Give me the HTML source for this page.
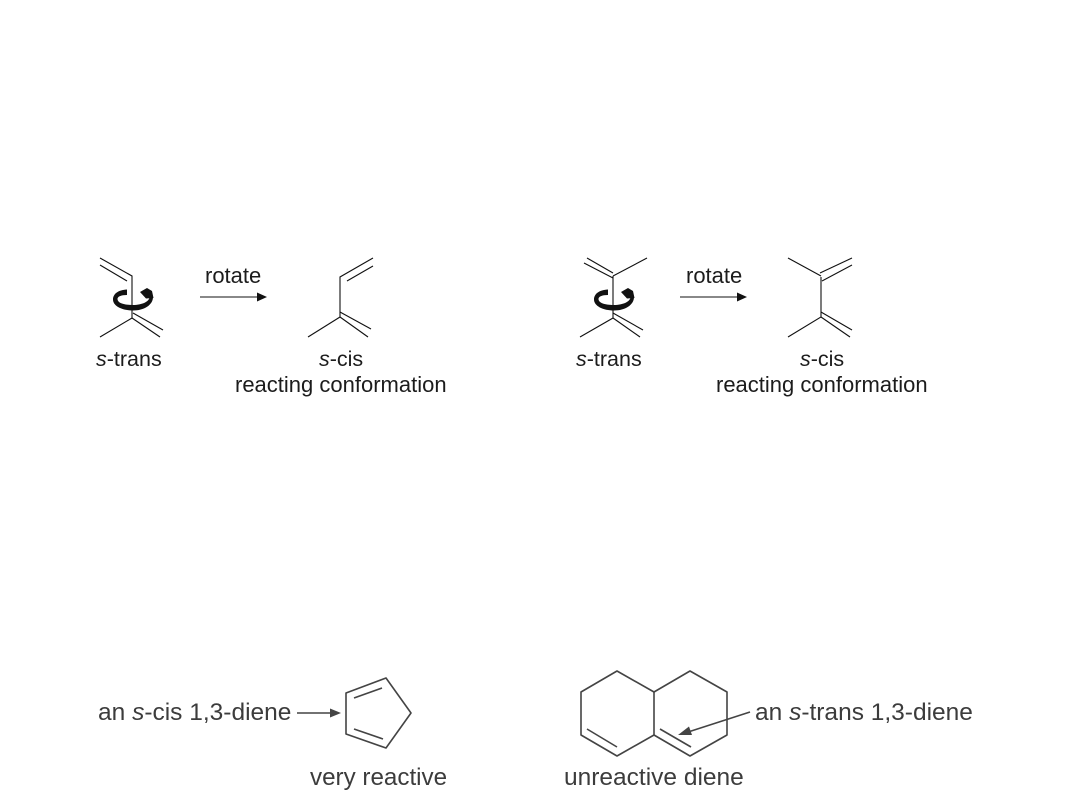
<!DOCTYPE html>
<html>
<head>
<meta charset="utf-8">
<style>
html,body{margin:0;padding:0;background:#fff;width:1080px;height:810px;overflow:hidden}
svg{display:block}
text{font-family:"Liberation Sans",sans-serif}
.t{font-size:21.5px;fill:#1c1c1c}
.r{font-size:22px;fill:#1c1c1c}
.b{font-size:24.5px;fill:#3c3c3c}
.m{stroke:#111;stroke-width:1.1;fill:none}
.g{stroke:#444;stroke-width:1.6;fill:none;stroke-linejoin:round}
</style>
</head>
<body>
<svg width="1080" height="810" viewBox="0 0 1080 810" xmlns="http://www.w3.org/2000/svg">
<defs>
<g id="rot">
<path d="M127 289.500C118 290 113 294 113 299.500C113 306 122 310.500 133 310.500C144 310.500 153 305 153 297L149.500 297C149.500 301.500 142 305 133 305C124 305 117.500 303 117.500 299C117.500 296.500 121 295 127 295Z" fill="#111"/>
<path d="M140 292L147 288L152 291L153.500 298L146 298.500Z" fill="#111"/>
</g>
</defs>

<!-- top left: s-trans -->
<g class="m">
<path d="M100 258L132 276V318L100 337"/>
<path d="M100 265L127 281"/>
<path d="M133 313L163 330"/>
<path d="M132 318L160 337"/>
<path d="M200 297H258"/>
<path d="M340 317V277L373 258"/>
<path d="M347 281L373 266"/>
<path d="M340 317L308 337"/>
<path d="M340 312L371 329"/>
<path d="M340 317L368 337"/>
</g>
<use href="#rot"/>
<path d="M257 292.500L267 297L257 301.500Z" fill="#111"/>
<text class="r" x="205" y="283">rotate</text>
<text class="t" x="96" y="366"><tspan font-style="italic">s</tspan>-trans</text>
<text class="t" x="319" y="366"><tspan font-style="italic">s</tspan>-cis</text>
<text class="r" x="235" y="392">reacting conformation</text>

<!-- top right -->
<g class="m">
<path d="M613 276V318L580 337"/>
<path d="M613 273L587 258"/>
<path d="M613 278L584 263"/>
<path d="M613 276L647 258"/>
<path d="M613 313L643 330"/>
<path d="M613 318L640 337"/>
<path d="M680 297H738"/>
<path d="M821 277V317L788 337"/>
<path d="M821 276L788 258"/>
<path d="M820 273L852 258"/>
<path d="M822 281L852 265"/>
<path d="M821 312L852 330"/>
<path d="M821 317L850 337"/>
</g>
<use href="#rot" x="481"/>
<path d="M737 292.500L747 297L737 301.500Z" fill="#111"/>
<text class="r" x="686" y="283">rotate</text>
<text class="t" x="576" y="366"><tspan font-style="italic">s</tspan>-trans</text>
<text class="t" x="800" y="366"><tspan font-style="italic">s</tspan>-cis</text>
<text class="r" x="716" y="392">reacting conformation</text>

<!-- bottom left -->
<g class="g">
<path d="M346 693L386 678L411 713L386 748L346 734Z"/>
<path d="M354 698L382 688"/>
<path d="M354 729L383 739"/>
<path d="M297 713H333"/>
</g>
<path d="M330 708.500L341 713L330 717.500Z" fill="#444"/>
<text class="b" x="98" y="720">an <tspan font-style="italic">s</tspan>-cis 1,3-diene</text>
<text class="b" x="310" y="785" style="font-size:24.2px">very reactive</text>

<!-- bottom right -->
<g class="g">
<path d="M581 692L617 671L654 692L690 671L727 692V735L690 756L654 735L617 756L581 735Z"/>
<path d="M654 692V735"/>
<path d="M587 729L617 747"/>
<path d="M660 729L691 747"/>
<path d="M750 712L685 733"/>
</g>
<path d="M678 735L689 726.500L692 735Z" fill="#444"/>
<text class="b" x="755" y="720">an <tspan font-style="italic">s</tspan>-trans 1,3-diene</text>
<text class="b" x="564" y="785">unreactive diene</text>
</svg>
</body>
</html>
